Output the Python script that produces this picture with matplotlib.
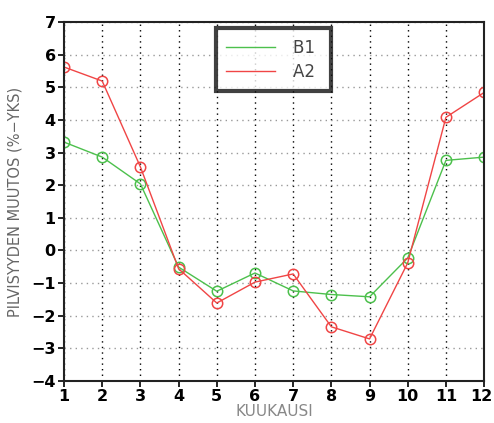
import numpy as np
import matplotlib.pyplot as plt
import matplotlib.transforms as mtransforms

months = np.arange(1, 13)
b1 = [3.32, 2.86, 2.04, -0.51, -1.25, -0.69, -1.24, -1.35, -1.42, -0.23, 2.76, 2.86]
a2 = [5.62, 5.19, 2.56, -0.56, -1.61, -0.97, -0.72, -2.34, -2.71, -0.38, 4.08, 4.84]

green = '#4cc04c'
red = '#f04545'

fig = plt.figure(figsize=(4.94, 4.23), dpi=100)
ax = fig.add_axes([0.1296, 0.0993, 0.8504, 0.8487])

ax.plot(months, b1, color=green, lw=1.0, marker='o', ms=7.5, mfc='none', mec=green, mew=1.1, label='B1')
ax.plot(months, a2, color=red, lw=1.0, marker='o', ms=7.5, mfc='none', mec=red, mew=1.1, label='A2')

ax.set_xlim(1, 12)
ax.set_ylim(-4, 7)
ax.set_xticks(months)
ax.set_yticks(np.arange(-4, 8))
ax.set_yticklabels(['\u2212%d' % -v if v < 0 else '%d' % v for v in range(-4, 8)])

# pystysuorat mustat pisteet, vaakasuorat harmaat
ax.xaxis.grid(True, color='black', ls=(0, (1, 3)), lw=1.0)
ax.yaxis.grid(True, color='#999999', ls=(0, (1, 3)), lw=1.0)

for s in ax.spines.values():
    s.set_linewidth(1.5)
    s.set_color('#222222')

ax.tick_params(direction='out', length=4, width=1.2, labelsize=11.5, pad=2)
for lab in ax.get_xticklabels() + ax.get_yticklabels():
    lab.set_fontweight('bold')

# viimeinen x-tikki hieman vasemmalle, ettei leikkaudu
last = ax.xaxis.get_major_ticks()[-1].label1
last.set_transform(last.get_transform() + mtransforms.ScaledTranslation(-2 / 72, 0, fig.dpi_scale_trans))

ax.set_xlabel('KUUKAUSI', color='#888888', fontsize=11, labelpad=0)
ax.set_ylabel('PILVISYYDEN MUUTOS (%\u2212YKS)', color='#666666', fontsize=10.5, labelpad=6)

leg = ax.legend(loc='upper left', bbox_to_anchor=(0.362, 0.982), frameon=True, fancybox=False,
                fontsize=12, handlelength=2.9, handletextpad=1.1, borderpad=0.62,
                labelspacing=0.35, borderaxespad=0)
leg.get_frame().set_edgecolor('#111111')
leg.get_frame().set_linewidth(3)
for h in leg.legend_handles:
    h.set_marker('')
for t in leg.get_texts():
    t.set_color('#444444')
    t.set_text(t.get_text() + ' ')

fig.savefig('out.png', dpi=100)
